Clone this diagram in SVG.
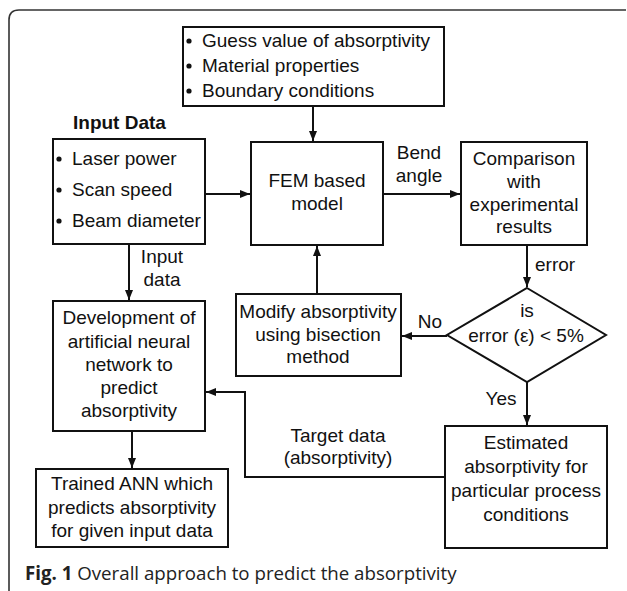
<svg xmlns="http://www.w3.org/2000/svg" width="627" height="591" viewBox="0 0 627 591">
  <style>
    .box { fill: #fff; stroke: #111; stroke-width: 2; }
    .edge { fill: none; stroke: #111; stroke-width: 2; }
    text { font-family: "Liberation Sans", Arial, sans-serif; font-size: 19px; fill: #111; }
    .c { text-anchor: middle; }
    .b { font-weight: bold; }
    .cap { font-family: "Open Sans", "Noto Sans", sans-serif; font-size: 18.7px; fill: #222; }
  </style>
  <defs>
    <marker id="arrow" viewBox="0 0 10 8" refX="10" refY="4" markerWidth="10" markerHeight="8" markerUnits="userSpaceOnUse" orient="auto">
      <path d="M0,0 L10,4 L0,8 Z" fill="#111"/>
    </marker>
  </defs>

  <rect width="627" height="591" fill="#fff"/>
  <!-- figure frame -->
  <path d="M9,591 V20 Q9,10 19,10 H626" fill="none" stroke="#333" stroke-width="1.6"/>

  <g id="connectors">
    <path class="edge" d="M313,106 V141" marker-end="url(#arrow)"/>
    <path class="edge" d="M205,194 H250" marker-end="url(#arrow)"/>
    <path class="edge" d="M383,194 H460" marker-end="url(#arrow)"/>
    <path class="edge" d="M527,245 V287" marker-end="url(#arrow)"/>
    <path class="edge" d="M447,336 H402" marker-end="url(#arrow)"/>
    <path class="edge" d="M317,294 V246" marker-end="url(#arrow)"/>
    <path class="edge" d="M527,382 V425" marker-end="url(#arrow)"/>
    <path class="edge" d="M129,244 V300" marker-end="url(#arrow)"/>
    <path class="edge" d="M132,431 V468" marker-end="url(#arrow)"/>
    <path class="edge" d="M445,477 H245 V392 H206" marker-end="url(#arrow)"/>
    <text x="419" y="159" class="c">Bend</text>
    <text x="419" y="182" class="c">angle</text>
    <text x="535" y="271">error</text>
    <text x="430" y="328" class="c">No</text>
    <text x="501" y="405" class="c">Yes</text>
    <text x="162" y="263" class="c">Input</text>
    <text x="162" y="286" class="c">data</text>
    <text x="338" y="442" class="c">Target data</text>
    <text x="338" y="464" class="c">(absorptivity)</text>
  </g>

  <g id="fem-inputs">
    <rect class="box" x="183" y="27" width="261" height="79"/>
    <circle cx="189" cy="41" r="2.6" fill="#111"/>
    <circle cx="189" cy="66" r="2.6" fill="#111"/>
    <circle cx="189" cy="91" r="2.6" fill="#111"/>
    <text x="202" y="47">Guess value of absorptivity</text>
    <text x="202" y="72">Material properties</text>
    <text x="202" y="97">Boundary conditions</text>
  </g>

  <g id="input-data">
    <text x="73" y="129" class="b">Input Data</text>
    <rect class="box" x="53" y="139" width="152" height="105"/>
    <circle cx="59" cy="159" r="2.6" fill="#111"/>
    <circle cx="59" cy="190" r="2.6" fill="#111"/>
    <circle cx="59" cy="221" r="2.6" fill="#111"/>
    <text x="72" y="165">Laser power</text>
    <text x="72" y="196">Scan speed</text>
    <text x="72" y="227">Beam diameter</text>
  </g>

  <g id="fem-model">
    <rect class="box" x="251" y="142" width="132" height="103"/>
    <text x="317" y="187" class="c">FEM based</text>
    <text x="317" y="210" class="c">model</text>
  </g>

  <g id="comparison">
    <rect class="box" x="461" y="142" width="126" height="103"/>
    <text x="524" y="165" class="c">Comparison</text>
    <text x="524" y="188" class="c">with</text>
    <text x="524" y="211" class="c">experimental</text>
    <text x="524" y="233" class="c">results</text>
  </g>

  <g id="decision">
    <polygon class="box" points="527,288 606,335 527,382 447,335"/>
    <text x="527" y="317" class="c">is</text>
    <text x="526" y="342" class="c">error (ε) &lt; 5%</text>
  </g>

  <g id="modify">
    <rect class="box" x="236" y="294" width="165" height="82"/>
    <text x="318" y="318" class="c">Modify absorptivity</text>
    <text x="318" y="341" class="c">using bisection</text>
    <text x="318" y="363" class="c">method</text>
  </g>

  <g id="ann-development">
    <rect class="box" x="53" y="301" width="152" height="130"/>
    <text x="129" y="324" class="c">Development of</text>
    <text x="129" y="348" class="c">artificial neural</text>
    <text x="129" y="371" class="c">network to</text>
    <text x="129" y="394" class="c">predict</text>
    <text x="129" y="417" class="c">absorptivity</text>
  </g>

  <g id="trained-ann">
    <rect class="box" x="36" y="469" width="192" height="78"/>
    <text x="132" y="490" class="c">Trained ANN which</text>
    <text x="132" y="514" class="c">predicts absorptivity</text>
    <text x="132" y="537" class="c">for given input data</text>
  </g>

  <g id="estimated">
    <rect class="box" x="445" y="426" width="162" height="122"/>
    <text x="526" y="449" class="c">Estimated</text>
    <text x="526" y="473" class="c">absorptivity for</text>
    <text x="526" y="497" class="c">particular process</text>
    <text x="526" y="521" class="c">conditions</text>
  </g>

  <text x="25" y="580" class="cap"><tspan font-weight="bold">Fig. 1</tspan> Overall approach to predict the absorptivity</text>
</svg>
